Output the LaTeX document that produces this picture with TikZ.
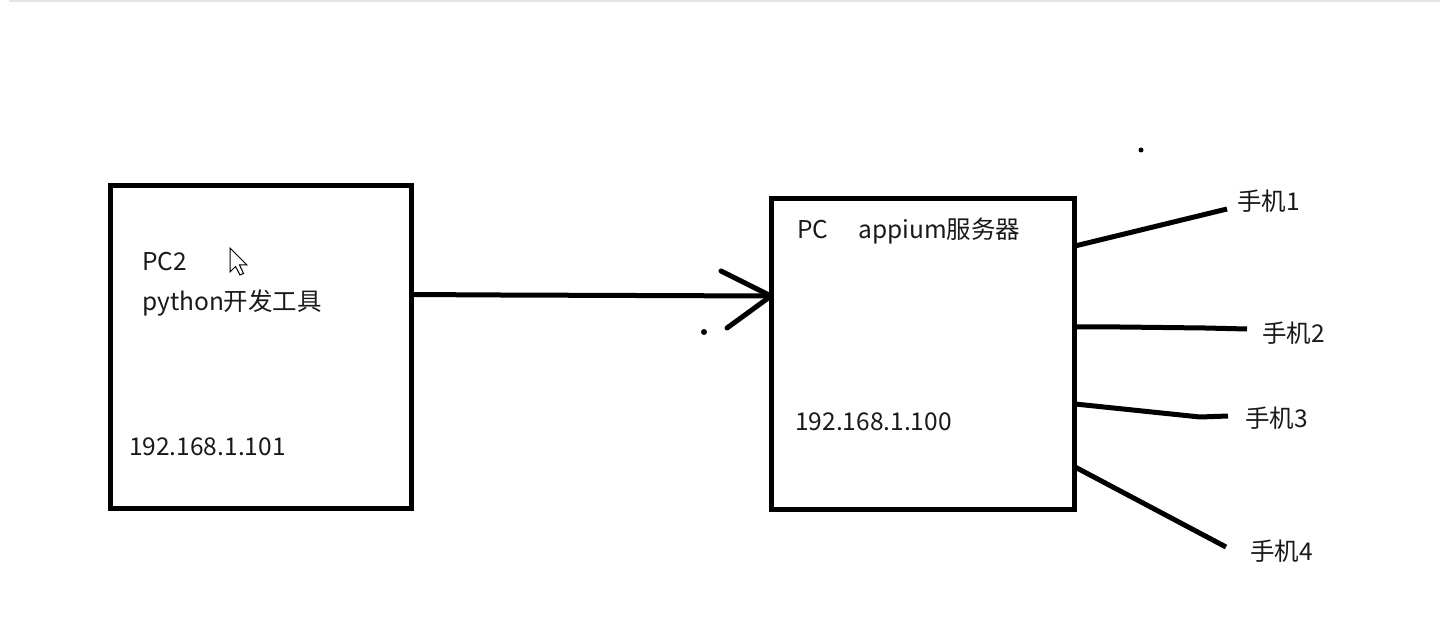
\documentclass[tikz,border=0pt]{standalone}
\usepackage{fontspec}
\setmainfont{Noto Sans CJK SC}
\begin{document}
\begin{tikzpicture}[x=1pt,y=-1pt,
  box/.style={draw=black,line width=5pt,minimum width=301pt,minimum height=322pt,inner sep=0pt},
  lbl/.style={anchor=west,inner sep=0pt,font=\fontsize{24.5}{28}\selectfont,text=black!90},
  wire/.style={line width=5pt,line cap=round,line join=round},
  dotmark/.style={fill=black}]
\useasboundingbox (0,0) rectangle (1449,617);
% top rule
\draw[black!10,line width=2pt] (9,0.8) -- (1440,0.8);
% boxes
\node[box] (L) at (260.5,347) {};
\node[box,minimum width=303pt,minimum height=310pt] (R) at (922.5,354) {};
% texts
\node[lbl] (t1) at (142,262) {PC2};
\node[lbl] (t2) at (142,303) {python开发工具};
\node[lbl] (t3) at (129,447) {192.168.1.101};
\node[lbl] (t4) at (797,231) {PC\hspace{30pt}appium服务器};
\node[lbl] (t5) at (795,422) {192.168.1.100};
\node[lbl] (p1) at (1237,201) {手机1};
\node[lbl] (p2) at (1262,333) {手机2};
\node[lbl] (p3) at (1245,418) {手机3};
\node[lbl] (p4) at (1250,551) {手机4};
% main arrow
\coordinate (as) at (411,294.5);
\coordinate (am) at (500,295);
\coordinate (ae) at (771,296);
\coordinate (h1) at (721,271);
\coordinate (h2) at (727,328);
\draw[wire,line cap=butt] (as) -- (am) -- (ae);
\draw[wire] (h1) -- (ae) -- (h2);
% stray dots
\fill[dotmark] (704,332) circle (3pt);
\fill[dotmark] (1141,150) circle (2.5pt);
% phone links
\coordinate (r1) at (1075,246);
\coordinate (r2) at (1075,327);
\coordinate (r3) at (1075,404);
\coordinate (r4) at (1075,467);
\coordinate (e1) at (1227,209);
\coordinate (e2) at (1247,329);
\coordinate (e3m) at (1200,417);
\coordinate (e3) at (1228,416);
\coordinate (e4) at (1226,547);
\draw[wire,line cap=butt] (r1) -- (e1);
\draw[wire,line cap=butt] (r2) -- (1120,327) -- (1205,328) -- (e2);
\draw[wire,line cap=butt] (r3) -- (e3m) -- (e3);
\draw[wire,line cap=butt] (r4) -- (e4);
% mouse cursor
\draw[black,line width=1pt,fill=white,line join=miter]
  (230,248) -- (230,272) -- (235.5,266.5) -- (240,275) -- (243.5,273.5) -- (239.5,265) -- (247,265) -- cycle;
\end{tikzpicture}
\end{document}
